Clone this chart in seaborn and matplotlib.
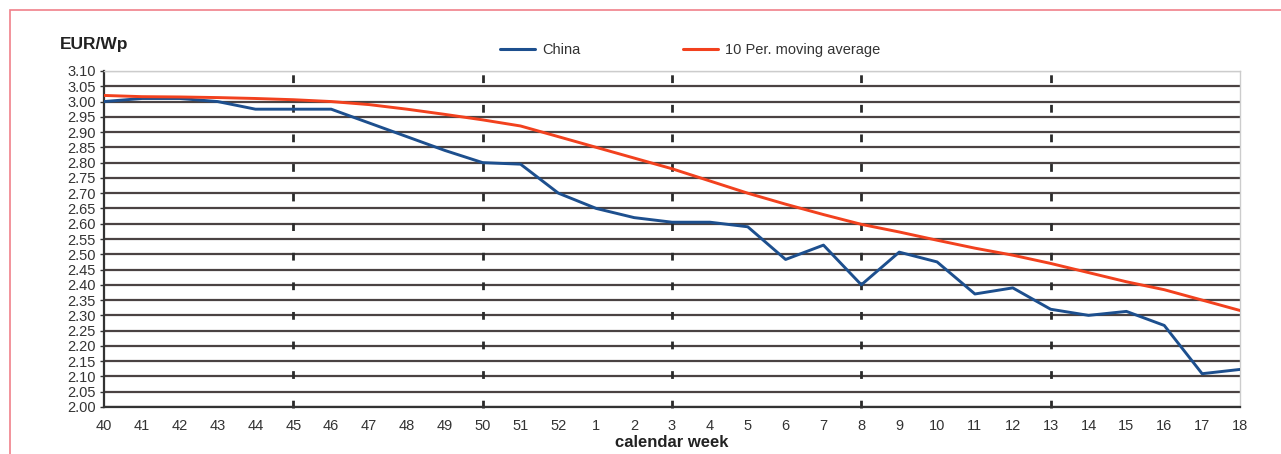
import pandas as pd
import seaborn as sns
import matplotlib.pyplot as plt
from matplotlib.lines import Line2D
from matplotlib.patches import Rectangle

weeks = [40, 41, 42, 43, 44, 45, 46, 47, 48, 49, 50, 51, 52,
         1, 2, 3, 4, 5, 6, 7, 8, 9, 10, 11, 12, 13, 14, 15, 16, 17, 18]
china = [3.00, 3.01, 3.01, 3.00, 2.975, 2.975, 2.975, 2.93, 2.885, 2.84, 2.80, 2.795, 2.70,
         2.65, 2.62, 2.605, 2.605, 2.59, 2.483, 2.53, 2.40, 2.507, 2.475, 2.37, 2.39,
         2.32, 2.30, 2.313, 2.267, 2.109, 2.123]
moving_avg = [3.02, 3.016, 3.015, 3.013, 3.01, 3.006, 3.00, 2.99, 2.975, 2.958, 2.94, 2.92, 2.885,
              2.85, 2.815, 2.78, 2.74, 2.70, 2.664, 2.63, 2.598, 2.573, 2.546, 2.52, 2.497,
              2.47, 2.44, 2.41, 2.384, 2.35, 2.316]
series_names = ["China", "10 Per. moving average"]
series_colors = ["#1d4f8e", "#f2411e"]
marked_weeks = [45, 50, 3, 8, 13]
yticks = [round(2.0 + 0.05 * i, 2) for i in range(23)]

df = pd.concat([
    pd.DataFrame({"week": [str(w) for w in weeks], "value": china, "series": series_names[0]}),
    pd.DataFrame({"week": [str(w) for w in weeks], "value": moving_avg, "series": series_names[1]}),
])

sns.set_theme(style="white")
plt.rcParams["font.family"] = ["Liberation Sans", "DejaVu Sans"]
plt.rcParams["lines.scale_dashes"] = False

fig = plt.figure(figsize=(12.81, 4.54), dpi=100)
ax = fig.add_axes([104 / 1281, 1 - 407 / 454, (1240 - 104) / 1281, (407 - 71) / 454])

# horizontal grid every 0.05
ax.set_ylim(2.0, 3.10)
ax.set_yticks(yticks)
ax.set_yticklabels([f"{t:.2f}" for t in yticks])
ax.grid(axis="y", color="#4a4242", linewidth=1.6)
ax.yaxis.get_gridlines()[-1].set_color("#d0d0d0")
ax.yaxis.get_gridlines()[-1].set_linewidth(1.0)

# dashed vertical markers every 5 weeks
for w in marked_weeks:
    ax.axvline(weeks.index(w), ymin=-1 / 336, ymax=1, color="#2a2a2a", linewidth=2.0,
               linestyle=(0, (5.6, 15.7)), clip_on=False, zorder=2)

sns.lineplot(data=df, x="week", y="value", hue="series", palette=series_colors,
             sort=False, linewidth=2.1, ax=ax, legend=False, zorder=3)

ax.set_xlim(0, len(weeks) - 1)
ax.set_xlabel("calendar week", fontsize=12, fontweight="bold", color="#222222", labelpad=1)
ax.set_ylabel("")
ax.tick_params(axis="x", length=0, pad=9, labelsize=10.5, labelcolor="#333333")
ax.tick_params(axis="y", left=True, length=3, width=1, color="#333333", pad=3,
               labelsize=10.5, labelcolor="#333333")

for side in ["top", "right"]:
    ax.spines[side].set_color("#cccccc")
    ax.spines[side].set_linewidth(1.0)
for side in ["left", "bottom"]:
    ax.spines[side].set_color("#333333")
    ax.spines[side].set_linewidth(1.6)

fig.text(60 / 1281, 1 - 44 / 454, "EUR/Wp", fontsize=12.5, fontweight="bold",
         color="#222222", va="center", ha="left")

handles = [Line2D([0], [0], color=c, linewidth=2.2) for c in series_colors]
fig.legend(handles, series_names, loc="center", bbox_to_anchor=(690 / 1281, 1 - 50 / 454),
           ncol=2, frameon=False, fontsize=10.5, handlelength=2.4, handletextpad=0.5,
           columnspacing=7.0, labelcolor="#333333")

fig.patches.append(Rectangle((10 / 1281, -0.1), 1.2, 1.1 - 10 / 454, transform=fig.transFigure,
                             fill=False, edgecolor="#f0808a", linewidth=1.2))

fig.savefig("out.png", dpi=100)
